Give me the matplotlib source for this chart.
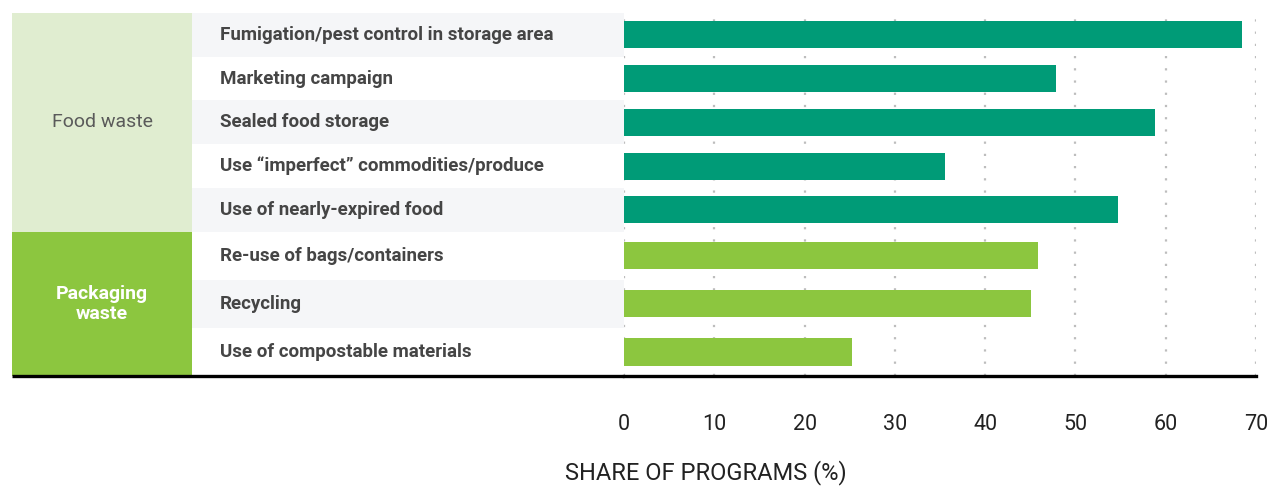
import matplotlib.pyplot as plt
from matplotlib.patches import Rectangle

# ---------- data ----------
labels = ["Fumigation/pest control in storage area",
          "Marketing campaign",
          "Sealed food storage",
          "Use \u201cimperfect\u201d commodities/produce",
          "Use of nearly-expired food",
          "Re-use of bags/containers",
          "Recycling",
          "Use of compostable materials"]
shares = [68.4, 47.8, 58.8, 35.5, 54.7, 45.9, 45.1, 25.3]
groups = ["Food waste", "Food waste", "Food waste", "Food waste", "Food waste",
          "Packaging waste", "Packaging waste", "Packaging waste"]
xticks = [0, 10, 20, 30, 40, 50, 60, 70]

# ---------- style ----------
dark_green = "#009b77"
light_green = "#8cc63f"
food_bg = "#e0edd0"
stripe = "#f5f6f8"
txt = "#454545"
plt.rcParams['font.family'] = ['Roboto', 'DejaVu Sans']

W, H = 1270, 487
fig = plt.figure(figsize=(W/100, H/100), dpi=100)

# main bar axes (pixel layout from reference)
ax = fig.add_axes([624/W, (H-376)/H, 632/W, 363/H])
# left axes for group boxes + labels, shares y
axl = fig.add_axes([12/W, (H-376)/H, 612/W, 363/H], sharey=ax)

# packaging rows are a bit taller than food rows in the original
row_h = [1.0 if g == "Food waste" else 1.1 for g in groups]
edges = [0.0]
for h in row_h:
    edges.append(edges[-1] + h)
ypos = [(edges[i] + edges[i+1]) / 2 for i in range(len(labels))]
colors = [dark_green if g == "Food waste" else light_green for g in groups]

ax.barh(ypos, shares, height=0.62, color=colors, zorder=3)
ax.set_xlim(0, 70)
ax.set_ylim(edges[-1], 0)
ax.set_xticks(xticks)
ax.set_xticklabels([str(t) for t in xticks], fontsize=15.5, color="#222222")
ax.tick_params(axis='x', length=0, pad=27)
ax.tick_params(axis='y', left=False, labelleft=False)
ax.grid(axis='x', color="#bdbdbd", linestyle=(0, (1, 4.5)), linewidth=1.6, zorder=1)
for s in ['top', 'right', 'left']:
    ax.spines[s].set_visible(False)
ax.spines['bottom'].set_linewidth(2.4)
ax.spines['bottom'].set_color("black")
ax.set_facecolor("none")

# stripes behind the labels
box_r = 180/612
for i in range(len(labels)):
    if i % 2 == 0:
        axl.add_patch(Rectangle((box_r, edges[i]), 1-box_r, row_h[i],
                                color=stripe, lw=0, zorder=0))

# group boxes
grp_names = []
for g in groups:
    if g not in grp_names:
        grp_names.append(g)
for g in grp_names:
    idx = [i for i, gg in enumerate(groups) if gg == g]
    y0, y1 = edges[idx[0]], edges[idx[-1]+1]
    if g == "Food waste":
        axl.add_patch(Rectangle((0, y0), box_r, y1-y0, color=food_bg, lw=0, zorder=1))
        axl.text(box_r/2, (y0+y1)/2, "Food waste", ha='center', va='center',
                 fontsize=14, color="#5a5a5a")
    else:
        axl.add_patch(Rectangle((0, y0), box_r, y1-y0, color=light_green, lw=0, zorder=1))
        axl.text(box_r/2, (y0+y1)/2, "Packaging\nwaste", ha='center', va='center',
                 fontsize=14, color="white", fontweight='bold', linespacing=1.1)

for i, lab in enumerate(labels):
    axl.text(208/612, ypos[i], lab, ha='left', va='center', fontsize=13.5,
             fontweight='bold', color=txt, zorder=3)

axl.set_xlim(0, 1)
axl.axis('off')
axl.plot([0, 1], [edges[-1], edges[-1]], color="black", lw=2.4, clip_on=False, zorder=4,
         solid_capstyle='butt')

fig.text(706/W, 1-473/H, "SHARE OF PROGRAMS (%)", ha='center', va='center',
         fontsize=17, color="#222222")

fig.savefig("out.png", dpi=100)
